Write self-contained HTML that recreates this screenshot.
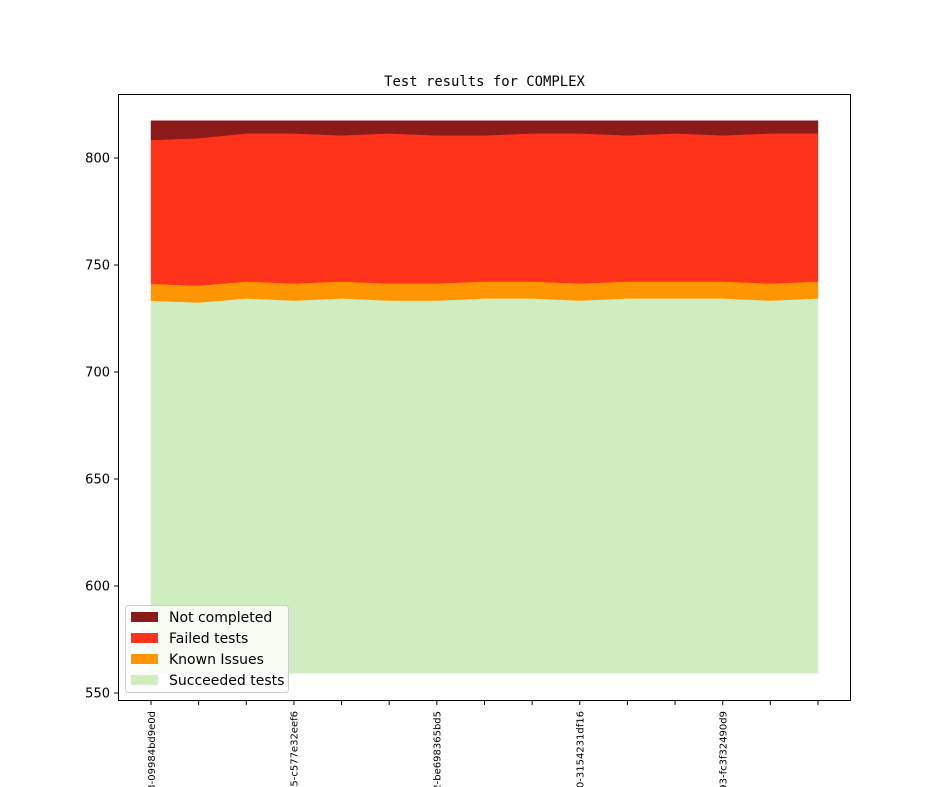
<!DOCTYPE html>
<html><head><meta charset="utf-8"><style>
body{margin:0;background:#fff;overflow:hidden;}
svg{display:block;font-family:"DejaVu Sans","Liberation Sans",sans-serif;}
</style></head><body>
<svg id="chart" width="944" height="787">
<text x="484.5" y="86" text-anchor="middle" font-size="13.9" font-family="DejaVu Sans Mono, Liberation Mono, monospace">Test results for COMPLEX</text>
<g id="areas"></g>
<rect x="118.5" y="94.5" width="732" height="606" fill="none" stroke="#000" stroke-width="1"/>
<g id="yaxis"></g>
<g id="xaxis"></g>
<g id="legend"></g>
</svg>
<script>
const categories=["3-09984bd9e0d","","","5-c577e32eef6","","","2-be698365bd5","","","0-3154231df16","","","93-fc3f32490d9","",""];
const baseline=559.3;
const succeeded=[733.3,732.5,734.4,733.4,734.4,733.4,733.4,734.4,734.4,733.4,734.4,734.4,734.4,733.4,734.4];
const knownTop=[741.2,740.4,742.3,741.4,742.3,741.4,741.4,742.3,742.3,741.4,742.3,742.3,742.3,741.4,742.3];
const failedTop=[808.4,809.3,811.5,811.5,810.6,811.5,810.6,810.6,811.5,811.5,810.6,811.5,810.6,811.5,811.5];
const totalTop=[817.4,817.4,817.4,817.4,817.4,817.4,817.4,817.4,817.4,817.4,817.4,817.4,817.4,817.4,817.4];
const yTicks=[550,600,650,700,750,800];
const seriesNames=["Not completed","Failed tests","Known Issues","Succeeded tests"];
const seriesColors=["#8b1a1a","#ff321a","#ff9600","#cfedbf"];

const NS="http://www.w3.org/2000/svg";
const x=i=>151+i*(818-151)/(categories.length-1);
const y=v=>158+(800-v)*(265-158)/50;
function mk(tag,attrs,parent){const e=document.createElementNS(NS,tag);for(const k in attrs)e.setAttribute(k,attrs[k]);parent.appendChild(e);return e;}

const areas=document.getElementById('areas');
const layers=[[baseline,succeeded],[succeeded,knownTop],[knownTop,failedTop],[failedTop,totalTop]];
const layerColors=[seriesColors[3],seriesColors[2],seriesColors[1],seriesColors[0]];
const layerNames=['area-succeeded','area-known-issues','area-failed','area-not-completed'];
layers.forEach((L,li)=>{
  const lo=L[0],hi=L[1];
  let pts=[];
  for(let i=0;i<categories.length;i++)pts.push(x(i)+','+y(hi[i]));
  for(let i=categories.length-1;i>=0;i--)pts.push(x(i)+','+y(Array.isArray(lo)?lo[i]:lo));
  const p=mk('polygon',{points:pts.join(' '),fill:layerColors[li],stroke:layerColors[li],'stroke-width':0.5},areas);
  
  
});

const ya=document.getElementById('yaxis');
yTicks.forEach(t=>{
  const l=mk('line',{x1:114,x2:118,y1:y(t),y2:y(t),stroke:'#000'},ya);
  
  
  const tx=mk('text',{x:110,y:y(t)+4.5,'text-anchor':'end','font-size':13},ya);
  tx.textContent=t;
  
  
});

const xa=document.getElementById('xaxis');
categories.forEach((c,i)=>{
  const l=mk('line',{x1:x(i),x2:x(i),y1:701,y2:705,stroke:'#000'},xa);
  
  
  if(c){
    const tx=mk('text',{x:0,y:0,'font-size':10,'text-anchor':'end',transform:`translate(${x(i)+3.8},711) rotate(-90)`},xa);
    tx.textContent=c;
    
    
  }
});

const lg=document.getElementById('legend');
const box=mk('rect',{x:125.5,y:605.5,width:163,height:87,rx:3,fill:'#fff','fill-opacity':0.8,stroke:'#ccc'},lg);


seriesNames.forEach((n,i)=>{
  const yy=617+i*21;
  const sw=mk('rect',{x:131,y:yy-5,width:27,height:10,fill:seriesColors[i]},lg);
  
  
  const tx=mk('text',{x:169,y:yy+5,'font-size':14},lg);
  tx.textContent=n;
  
  
});
</script>
</body></html>
